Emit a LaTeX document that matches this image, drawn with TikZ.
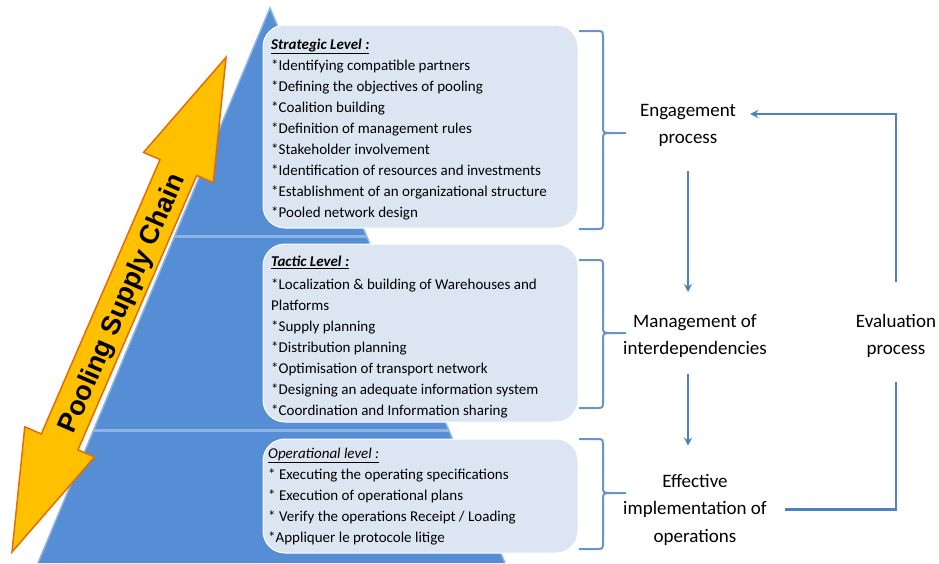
\documentclass[tikz,border=0pt]{standalone}
\usepackage{fontspec}
\setmainfont{Carlito}
\newfontfamily\arrowfont{Liberation Sans}
\usetikzlibrary{calc,arrows.meta}
\usepackage{xcolor}
\definecolor{pyramid}{HTML}{558ED5}
\definecolor{pyredge}{HTML}{8EB4E3}
\definecolor{levelfill}{HTML}{DCE6F2}
\definecolor{linkblue}{HTML}{4F81BD}
\definecolor{arrowgold}{HTML}{FFC000}
\definecolor{arroworange}{HTML}{E46C0A}

\begin{document}
\begin{tikzpicture}[x=1pt,y=-1pt,
    levelbox/.style={fill=levelfill,draw=white,line width=1pt,rounded corners=22pt},
    items/.style={anchor=north west,inner sep=0pt,align=left,font=\fontsize{15}{21}\selectfont},
    process/.style={inner sep=0pt,align=center,font=\fontsize{19}{27.5}\selectfont},
    flow/.style={draw=linkblue,line width=2pt,-{Stealth[length=8pt,width=8pt]}},
    loopline/.style={draw=linkblue,line width=2.2pt},
    bracket/.style={draw=linkblue!85,line width=2pt}]

      \useasboundingbox (0,0) rectangle (939,563);

      % Pyramide
      \coordinate (T) at (270,8);
      \coordinate (L) at (38,563);
      \coordinate (R) at (505,563);
      \fill[pyramid] (T) -- (L) -- (R) -- cycle;
      \draw[pyredge,line width=1.5pt] (L) -- (T) -- (R);
      \draw[pyredge,line width=3pt] ($(T)!0.4126!(L)$) -- ($(T)!0.4126!(R)$);
      \draw[pyredge,line width=3pt] ($(T)!0.7604!(L)$) -- ($(T)!0.7604!(R)$);

      % Fleche
      \def\ang{66.6}
      \begin{scope}[shift={(12,552)},rotate=\ang]
        \filldraw[fill=arrowgold,draw=arroworange,line width=1.5pt]
          (0,0) -- (120,38) -- (120,20) -- (419,20) -- (419,38) -- (539,0)
          -- (419,-38) -- (419,-20) -- (120,-20) -- (120,-38) -- cycle;
      \end{scope}
      \node[rotate=\ang,font=\arrowfont\fontsize{27}{27}\selectfont\bfseries] (pooling) at (123,304) {Pooling Supply Chain};

      % Niveaux
      \draw[levelbox] (263,25) rectangle (578,228);
      \draw[levelbox] (263,244) rectangle (578,422);
      \draw[levelbox] (263,439) rectangle (578,553);

      \node[items] (strategic) at (271,39) {\textbf{\textit{\underline{Strategic Level :}}}\\
        *Identifying compatible partners\\
        *Defining the objectives of pooling\\
        *Coalition building\\
        *Definition of management rules\\
        *Stakeholder involvement\\
        *Identification of resources and investments\\
        *Establishment of an organizational structure\\
        *Pooled network design};
      \node[items] (tactic) at (271,256) {\textbf{\textit{\underline{Tactic Level :}}}\\[2pt]
        *Localization \& building of Warehouses and\\
        Platforms\\
        *Supply planning\\
        *Distribution planning\\
        *Optimisation of transport network\\
        *Designing an adequate information system\\
        *Coordination and Information sharing};
      \node[items] (operational) at (268,448) {\textit{\underline{Operational level :}}\\
        * Executing the operating specifications\\
        * Execution of operational plans\\
        * Verify the operations Receipt / Loading\\
        *Appliquer le protocole litige};

      % Accolades
      \foreach \ya/\yt/\yb in {31/133/229, 260/333/408, 439/493/549} {
        \draw[bracket] (579,\ya) -- (596,\ya) .. controls (603,\ya) .. (603,\ya+7)
          -- (603,\yt-7) .. controls (603,\yt) .. (612,\yt) -- (626,\yt);
        \draw[bracket] (612,\yt) .. controls (603,\yt) .. (603,\yt+7)
          -- (603,\yb-7) .. controls (603,\yb) .. (596,\yb) -- (579,\yb);
      }

      % Processus
      \node[process] (eng) at (688,125.5) {Engagement\\process};
      \node[process] (mgmt) at (695,336) {Management of\\interdependencies};
      \node[process] (eff) at (695,509.5) {Effective\\implementation of\\operations};
      \node[process] (eval) at (896,336) {Evaluation\\process};

      \draw[flow,shorten <=24pt,shorten >=22pt] (eng.south) -- (eng.south |- mgmt.north);
      \draw[flow,shorten <=16pt,shorten >=28pt] (eng.south |- mgmt.south) -- (eng.south |- eff.north);
      \draw[loopline,shorten <=18pt,shorten >=24pt] (eff.east) -| (eval.south);
      \draw[flow,shorten <=32pt,shorten >=14pt] (eval.north) |- ([yshift=11.5pt]eng.east);
    \end{tikzpicture}
\end{document}
